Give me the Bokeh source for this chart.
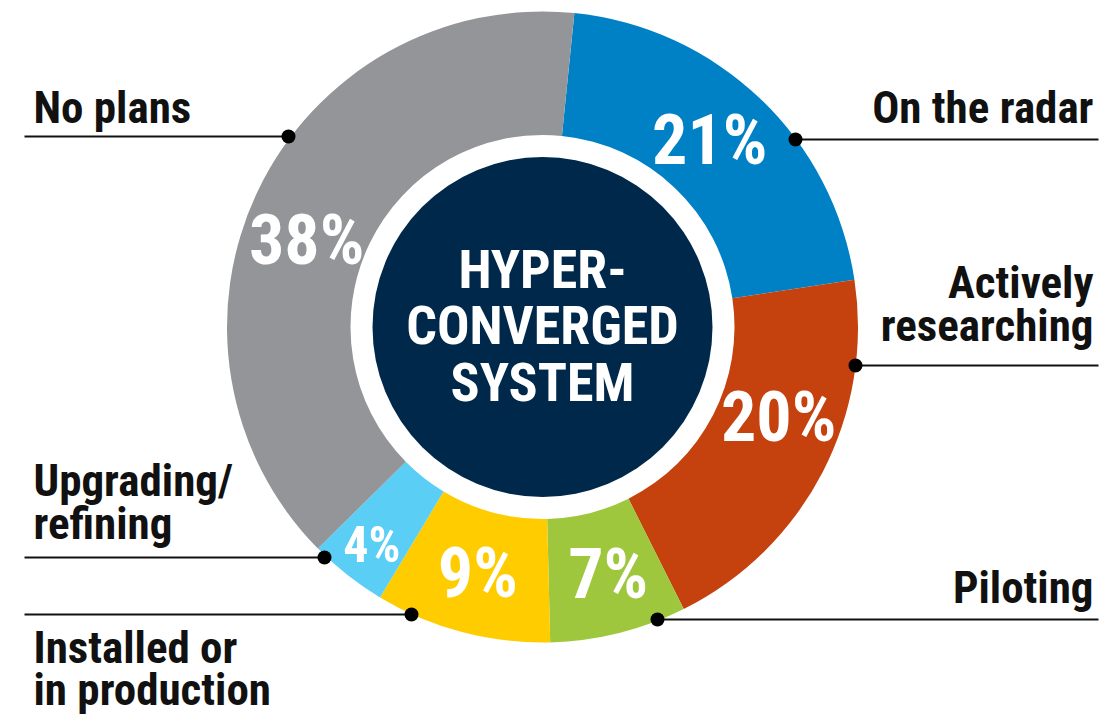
import numpy as np
from bokeh.plotting import figure
from bokeh.models import Range1d
from bokeh.core.properties import value
from bokeh.embed import file_html
from bokeh.resources import INLINE

# ---------------- data ----------------
categories = ["On the radar", "Actively\nresearching", "Piloting",
              "Installed or\nin production", "Upgrading/\nrefining", "No plans"]
percents = [21, 20, 7, 9, 4, 38]
colors = ["#0081C6", "#C5410E", "#9FC73D", "#FFCC00", "#5BCEF5", "#939598"]
center_lines = ["HYPER-", "CONVERGED", "SYSTEM"]

# ---------------- layout ----------------
W, H = 1115, 728
FONT = value("Roboto Condensed, DejaVu Sans Condensed, sans-serif")
CAP = 0.711
FIX = 0.33                      # baseline correction (em) for rendered text
CX, CY = 542.0, 326.5          # centre, page px
R_OUT, R_IN, R_CORE = 315.5, 192.0, 170.0
START = 5.8                     # degrees clockwise from 12 o'clock


def Y(y):
    return H - y


def base_y(b, fs):
    return Y(b - FIX * fs)


p = figure(width=W, height=H, output_backend="svg", toolbar_location=None,
           x_range=Range1d(0, W), y_range=Range1d(0, H),
           x_axis_location=None, y_axis_location=None, min_border=0,
           background_fill_color="white", border_fill_color="white")
p.outline_line_color = None
p.grid.visible = False

# wedge boundaries (degrees clockwise from top)
bounds = START + np.cumsum([0] + percents) * 3.6
bounds[-1] = START + 360.0      # last slice closes the ring
deg_start = bounds[:-1]
deg_end = bounds[1:]
to_rad = lambda d: np.radians(90.0 - d)

p.annular_wedge(x=CX, y=Y(CY), inner_radius=R_IN, outer_radius=R_OUT,
                start_angle=to_rad(deg_start), end_angle=to_rad(deg_end),
                direction="clock", fill_color=colors, line_color=None)

p.circle(x=[CX], y=[Y(CY)], radius=R_CORE, fill_color="#00284A", line_color=None)

# centre title
CFS = 54
center_base = [287, 343, 400]
p.text(x=[CX] * 3, y=[base_y(b, CFS) for b in center_base], text=center_lines,
       text_font=FONT, text_font_style="bold", text_font_size=f"{CFS}px",
       text_color="white", text_align="center", text_baseline="alphabetic")

# percentage labels (placed at slice mid-angle)
pct_r = [252, 252, 254, 253, 276, 252]
pct_nudge = [-2, -7, -1, 0, 0, -5]
pct_size = [70, 70, 70, 70, 50, 70]
mids = START + (np.cumsum(percents) - np.array(percents) / 2) * 3.6
mids[-1] = (deg_start[-1] + deg_end[-1]) / 2
for i, v in enumerate(percents):
    d = mids[i] + pct_nudge[i]
    px = CX + pct_r[i] * np.sin(np.radians(d))
    py = CY - pct_r[i] * np.cos(np.radians(d))
    base = py + CAP * pct_size[i] / 2
    p.text(x=[px], y=[base_y(base, pct_size[i])], text=[f"{v}%"], text_font=FONT,
           text_font_style="bold", text_font_size=f"{pct_size[i]}px",
           text_color="white", text_align="center", text_baseline="alphabetic")

# category labels with leader lines
LFS = 45
label_side = ["right", "right", "right", "left", "left", "left"]
label_line_y = [139, 365, 619, 614, 557, 136]
label_dot_x = [795, 855, 657, 411, 324, 288]
label_base_y = [[122], [297, 340], [602], [662, 704], [495, 538], [122]]
LEFT_X0, LEFT_TX = 24, 33
RIGHT_X1, RIGHT_TX = 1098, 1093

for i, cat in enumerate(categories):
    ly = label_line_y[i]
    dx = label_dot_x[i]
    if label_side[i] == "left":
        x0, x1, tx, al = LEFT_X0, dx, LEFT_TX, "left"
    else:
        x0, x1, tx, al = dx, RIGHT_X1, RIGHT_TX, "right"
    p.segment(x0=[x0], y0=[Y(ly)], x1=[x1], y1=[Y(ly)], line_color="#111111", line_width=2)
    p.scatter(x=[dx], y=[Y(ly)], size=14, marker="circle", fill_color="#000000", line_color=None)
    lines = cat.split("\n")
    p.text(x=[tx] * len(lines), y=[base_y(b, LFS) for b in label_base_y[i]], text=lines,
           text_font=FONT, text_font_style="bold", text_font_size=f"{LFS}px",
           text_color="#111111", text_align=al, text_baseline="alphabetic")

open("out.html", "w").write(file_html(p, INLINE))
